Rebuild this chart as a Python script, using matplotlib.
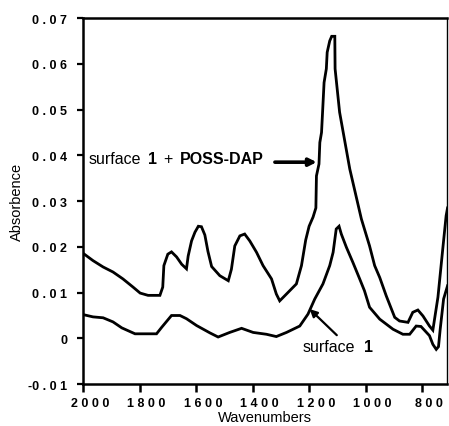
import matplotlib
matplotlib.use('Agg')
import matplotlib.pyplot as plt
import matplotlib.transforms as mtransforms
from matplotlib.offsetbox import TextArea, HPacker, AnnotationBbox

# surface 1 + POSS-DAP (upper trace)
wn_top = [2000, 1965, 1929, 1894, 1859, 1823, 1798, 1770, 1728, 1718, 1714, 1700,
          1687, 1669, 1651, 1634, 1628, 1616, 1604, 1592, 1581, 1569, 1558, 1545,
          1516, 1486, 1475, 1463, 1445, 1428, 1410, 1386, 1363, 1333, 1316, 1304,
          1280, 1245, 1227, 1212, 1200, 1186, 1176, 1174, 1165, 1162, 1156, 1153,
          1147, 1139, 1136, 1127, 1120, 1109, 1108, 1092, 1056, 1015, 986, 968,
          950, 927, 897, 880, 850, 833, 815, 797, 774, 762, 744, 727, 715, 710]
abs_top = [0.0186, 0.0170, 0.0156, 0.0145, 0.0130, 0.0112, 0.0099, 0.0094, 0.0094,
           0.0112, 0.0159, 0.0184, 0.0189, 0.0178, 0.0162, 0.0152, 0.0180, 0.0213,
           0.0232, 0.0245, 0.0244, 0.0226, 0.0190, 0.0157, 0.0137, 0.0126, 0.0151,
           0.0202, 0.0224, 0.0228, 0.0213, 0.0188, 0.0159, 0.0130, 0.0097, 0.0082,
           0.0097, 0.0119, 0.0159, 0.0215, 0.0245, 0.0265, 0.0285, 0.0355, 0.0381,
           0.0428, 0.0450, 0.0486, 0.0559, 0.0589, 0.0625, 0.0650, 0.0660, 0.0660,
           0.0589, 0.0494, 0.0370, 0.0261, 0.0202, 0.0159, 0.0133, 0.0093, 0.0046,
           0.0038, 0.0035, 0.0057, 0.0062, 0.0049, 0.0027, 0.0018, 0.0090, 0.0195,
           0.0268, 0.0285]

# surface 1 (lower trace)
wn_bot = [2000, 1965, 1929, 1894, 1863, 1816, 1740, 1722, 1687, 1657, 1634, 1598,
          1551, 1522, 1481, 1439, 1398, 1351, 1316, 1280, 1233, 1204, 1180, 1151,
          1127, 1115, 1104, 1094, 1086, 1068, 1045, 1021, 1004, 986, 950, 903,
          868, 844, 821, 804, 774, 762, 750, 742, 736, 724, 710]
abs_bot = [0.0052, 0.0047, 0.0045, 0.0036, 0.0023, 0.0010, 0.0010, 0.0024, 0.0050,
           0.0050, 0.0043, 0.0028, 0.0012, 0.0003, 0.0013, 0.0022, 0.0013, 0.0009,
           0.0004, 0.0013, 0.0027, 0.0053, 0.0086, 0.0119, 0.0159, 0.0188, 0.0239,
           0.0245, 0.0228, 0.0199, 0.0166, 0.0130, 0.0104, 0.0068, 0.0042, 0.0020,
           0.0009, 0.0009, 0.0027, 0.0026, 0.0006, -0.0013, -0.0024, -0.0018,
           0.0020, 0.0086, 0.0115]

xticks = [2000, 1800, 1600, 1400, 1200, 1000, 800]
xtick_labels = ['2 0 0 0', '1 8 0 0', '1 6 0 0', '1 4 0 0', '1 2 0 0', '1 0 0 0', '8 0 0']
yticks = [-0.01, 0, 0.01, 0.02, 0.03, 0.04, 0.05, 0.06, 0.07]
ytick_labels = ['-0 . 0 1', '0', '0 . 0 1', '0 . 0 2', '0 . 0 3', '0 . 0 4',
                '0 . 0 5', '0 . 0 6', '0 . 0 7']

plt.rcParams['font.family'] = ['Liberation Sans', 'DejaVu Sans']

fig = plt.figure(figsize=(4.49, 4.27), dpi=100)
ax = fig.add_axes([0.185, 0.098, 0.8105, 0.8575])

ax.plot(wn_top, abs_top, color='black', lw=2.0, solid_joinstyle='miter')
ax.plot(wn_bot, abs_bot, color='black', lw=2.0, solid_joinstyle='miter')

ax.set_xlim(2000, 712)
ax.set_ylim(-0.01, 0.07)

ax.set_xticks(xticks)
ax.set_xticklabels(xtick_labels, fontsize=9, fontweight='bold')
ax.set_yticks(yticks)
ax.set_yticklabels(ytick_labels, fontsize=9, fontweight='bold')
ax.tick_params(axis='x', direction='out', length=6, width=1.8, pad=3)
ax.tick_params(axis='y', direction='out', length=4.5, width=1.6, pad=7)

shift = mtransforms.ScaledTranslation(7 / 100, 0, fig.dpi_scale_trans)
for lab in ax.get_xticklabels():
    lab.set_transform(lab.get_transform() + shift)

for side in ['left', 'bottom', 'top']:
    ax.spines[side].set_linewidth(1.8)
ax.spines['right'].set_linewidth(1.0)

ax.set_xlabel('Wavenumbers', fontsize=10.5, labelpad=1)
ax.set_ylabel('Absorbence', fontsize=10.5, labelpad=3)

# labels with bold parts
regular = dict(fontsize=11.5, color='black')
bold = dict(fontsize=11.5, color='black', fontweight='bold')
box1 = HPacker(children=[TextArea('surface', textprops=regular),
                         TextArea('1', textprops=bold),
                         TextArea('+', textprops=regular),
                         TextArea('POSS-DAP', textprops=bold)],
               pad=0, sep=5, align='baseline')
ax.add_artist(AnnotationBbox(box1, (1982, 0.0392), box_alignment=(0, 0.5),
                             frameon=False, pad=0))
box2 = HPacker(children=[TextArea('surface', textprops=regular),
                         TextArea('1', textprops=bold)],
               pad=0, sep=6, align='baseline')
ax.add_artist(AnnotationBbox(box2, (1222, -0.0017), box_alignment=(0, 0.5),
                             frameon=False, pad=0))

ax.annotate('', xy=(1173, 0.0385), xytext=(1321, 0.0385),
            arrowprops=dict(arrowstyle='-|>', color='black', lw=2.6,
                            mutation_scale=11, shrinkA=0, shrinkB=0))
ax.annotate('', xy=(1198, 0.0064), xytext=(1102, 0.0007),
            arrowprops=dict(arrowstyle='-|>', color='black', lw=1.6,
                            mutation_scale=11, shrinkA=0, shrinkB=0))

fig.savefig('out.png', dpi=100)
